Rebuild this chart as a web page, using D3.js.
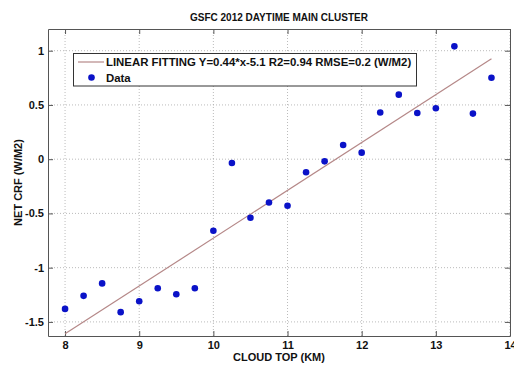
<!DOCTYPE html>
<html><head><meta charset="utf-8">
<script src="https://cdn.jsdelivr.net/npm/d3@7"></script>
<style>body{margin:0;background:#fff}text{font-family:Arial,"Liberation Sans",sans-serif;font-weight:bold}</style>
</head><body><svg id="c" width="514" height="365"></svg>
<script>
const cloudTop = [8,8.25,8.5,8.75,9,9.25,9.5,9.75,10,10.25,10.5,10.75,11,11.25,11.5,11.75,12,12.25,12.5,12.75,13,13.25,13.5,13.75];
const netCrf = [-1.38,-1.26,-1.145,-1.41,-1.31,-1.19,-1.245,-1.19,-0.66,-0.035,-0.54,-0.40,-0.43,-0.12,-0.02,0.13,0.06,0.43,0.595,0.425,0.47,1.04,0.42,0.75];
const fitSlope = 0.441, fitIntercept = -5.138;
const fitRange = [8, 13.75];
const xTicks = [8,9,10,11,12,13,14];
const yTicks = [-1.5,-1,-0.5,0,0.5,1];
const title = "GSFC 2012 DAYTIME MAIN CLUSTER";
const fitLabel = "LINEAR FITTING Y=0.44*x-5.1 R2=0.94 RMSE=0.2 (W/M2)";

const svg = d3.select("#c");
const L=48, R=510, T=29, B=336;
const x = d3.scaleLinear().domain([7.77,14.0]).range([L,R]);
const y = d3.scaleLinear().domain([-1.63,1.2]).range([B,T]);

// grid
const g = svg.append("g");
g.selectAll(".gx").data(xTicks).join("line").attr("x1",d=>x(d)).attr("x2",d=>x(d)).attr("y1",T).attr("y2",B)
 .attr("stroke","#aaa").attr("stroke-width",0.8).attr("stroke-dasharray","1,2");
g.selectAll(".gy").data(yTicks).join("line").attr("y1",d=>y(d)).attr("y2",d=>y(d)).attr("x1",L).attr("x2",R)
 .attr("stroke","#aaa").attr("stroke-width",0.8).attr("stroke-dasharray","1,2");

// axes (ticks inside)
const fmt = d => String(d);
const axB = svg.append("g").attr("transform",`translate(0,${B})`).call(d3.axisBottom(x).tickValues(xTicks).tickSizeInner(-5).tickSizeOuter(0).tickPadding(5).tickFormat(fmt));
const axL = svg.append("g").attr("transform",`translate(${L},0)`).call(d3.axisLeft(y).tickValues(yTicks).tickSizeInner(-5).tickSizeOuter(0).tickPadding(4).tickFormat(fmt));
const axT = svg.append("g").attr("transform",`translate(0,${T})`).call(d3.axisTop(x).tickValues(xTicks).tickSizeInner(-5).tickSizeOuter(0).tickFormat(""));
const axR = svg.append("g").attr("transform",`translate(${R},0)`).call(d3.axisRight(y).tickValues(yTicks).tickSizeInner(-5).tickSizeOuter(0).tickFormat(""));
[axB,axL,axT,axR].forEach(a=>{a.select(".domain").attr("stroke","#555");a.selectAll(".tick line").attr("stroke","#555");a.selectAll("text").attr("font-size",11).attr("font-weight","bold").attr("fill","#111").attr("font-family","Arial,'Liberation Sans',sans-serif");});

// fit line
svg.append("line").attr("x1",x(fitRange[0])).attr("y1",y(fitSlope*fitRange[0]+fitIntercept))
 .attr("x2",x(fitRange[1])).attr("y2",y(fitSlope*fitRange[1]+fitIntercept))
 .attr("stroke","#b58888").attr("stroke-width",1.2);

// points
svg.selectAll(".pt").data(cloudTop.map((c,i)=>[c,netCrf[i]])).join("circle")
 .attr("cx",d=>x(d[0])).attr("cy",d=>y(d[1])).attr("r",3.3).attr("fill","#0a12c8");

// legend
const lg = svg.append("g");
lg.append("rect").attr("x",73.5).attr("y",53.5).attr("width",343).attr("height",32.5).attr("fill","#fff").attr("stroke","#333").attr("stroke-width",1);
lg.append("line").attr("x1",78).attr("x2",104).attr("y1",62).attr("y2",62).attr("stroke","#b58888").attr("stroke-width",1.2);
lg.append("text").attr("x",106).attr("y",66).attr("font-size",11.4).attr("fill","#111").text(fitLabel);
lg.append("circle").attr("cx",91.5).attr("cy",77.5).attr("r",3.3).attr("fill","#0a12c8");
lg.append("text").attr("x",106).attr("y",81.5).attr("font-size",11.4).attr("fill","#111").text("Data");

// titles
svg.append("text").attr("x",279).attr("y",20.5).attr("text-anchor","middle").attr("font-size",10).attr("fill","#111").text(title);
svg.append("text").attr("x",279).attr("y",361).attr("text-anchor","middle").attr("font-size",11).attr("fill","#111").text("CLOUD TOP (KM)");
svg.append("text").attr("transform","translate(22,182.5) rotate(-90)").attr("text-anchor","middle").attr("font-size",11).attr("fill","#111").text("NET CRF (W/M2)");
</script></body></html>
